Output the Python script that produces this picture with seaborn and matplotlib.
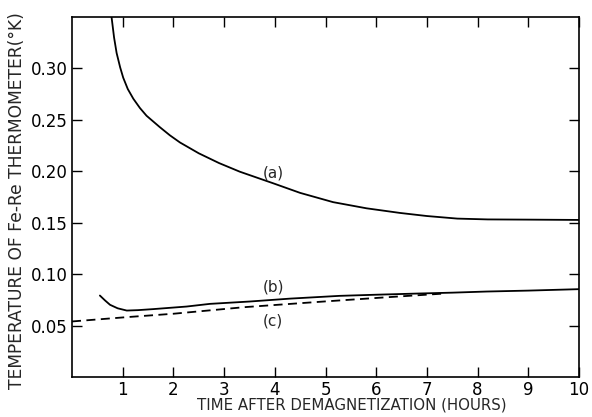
import matplotlib
matplotlib.use("Agg")
import matplotlib.pyplot as plt
import seaborn as sns
import pandas as pd

# Curve (a)
a_time = [0.78, 0.83, 0.88, 0.95, 1.01, 1.10, 1.21, 1.34, 1.47, 1.73, 1.93, 2.13, 2.50,
          2.90, 3.31, 3.97, 4.50, 5.15, 5.81, 6.47, 7.0, 7.6, 8.2, 9.0, 10.0]
a_temp = [0.350, 0.330, 0.315, 0.301, 0.291, 0.280, 0.2705, 0.2615, 0.2540, 0.243, 0.235,
          0.228, 0.2175, 0.208, 0.1996, 0.1883, 0.1790, 0.170, 0.164, 0.1595, 0.1565,
          0.1540, 0.1532, 0.1530, 0.1527]
# Curve (b)
b_time = [0.55, 0.65, 0.75, 0.90, 1.08, 1.30, 1.60, 2.26, 2.72, 3.51, 4.30, 5.28, 6.0,
          6.86, 7.5, 8.18, 9.0, 10.0]
b_temp = [0.0792, 0.0745, 0.0702, 0.0668, 0.0646, 0.0650, 0.0660, 0.0685, 0.0711, 0.0734,
          0.0762, 0.0789, 0.0800, 0.0812, 0.0820, 0.0831, 0.0840, 0.0854]
# Curve (c) (dashed)
c_time = [0.0, 1.08, 2.0, 3.4, 5.0, 6.2, 7.3]
c_temp = [0.054, 0.0582, 0.0615, 0.0679, 0.0735, 0.0775, 0.0810]

x_ticks = [1, 2, 3, 4, 5, 6, 7, 8, 9, 10]
y_ticks = [0.05, 0.10, 0.15, 0.20, 0.25, 0.30]
y_tick_labels = ["0.05", "0.10", "0.15", "0.20", "0.25", "0.30"]
curve_labels = ["(a)", "(b)", "(c)"]
label_pos = [(3.97, 0.198), (3.97, 0.0875), (3.97, 0.0545)]

df = pd.concat([
    pd.DataFrame({"time": a_time, "temp": a_temp, "curve": "a"}),
    pd.DataFrame({"time": b_time, "temp": b_temp, "curve": "b"}),
    pd.DataFrame({"time": c_time, "temp": c_temp, "curve": "c"}),
], ignore_index=True)

sns.set_style("ticks")
plt.rcParams["font.family"] = ["DejaVu Sans"]

fig = plt.figure(figsize=(5.92, 4.17), dpi=100)
ax = fig.add_axes([72 / 592, 1 - 377 / 417, (579 - 72) / 592, (377 - 17) / 417])

sns.lineplot(data=df, x="time", y="temp", hue="curve", style="curve",
             palette={"a": "black", "b": "black", "c": "black"},
             dashes={"a": "", "b": "", "c": (5, 3)},
             linewidth=1.3, legend=False, ax=ax, sort=False, estimator=None)

ax.set_xlim(0, 10)
ax.set_ylim(0, 0.35)
ax.set_xticks(x_ticks)
ax.set_xticklabels([str(t) for t in x_ticks])
ax.set_yticks(y_ticks)
ax.set_yticklabels(y_tick_labels)
ax.tick_params(direction="in", top=True, right=True, length=7, width=1,
               labelsize=12, colors="black", pad=3)
for s in ax.spines.values():
    s.set_linewidth(1.2)
    s.set_color("black")

for lab, (lx, ly) in zip(curve_labels, label_pos):
    ax.text(lx, ly, lab, fontsize=11, ha="center", va="center")

ax.set_xlabel("TIME AFTER DEMAGNETIZATION (HOURS)", fontsize=10.8)
ax.set_ylabel("TEMPERATURE OF Fe-Re THERMOMETER(\u00b0K)", fontsize=12.3)
ax.xaxis.set_label_coords(0.552, -0.058)
ax.yaxis.set_label_coords(-0.09, 0.49)

fig.savefig("out.png", dpi=100)
